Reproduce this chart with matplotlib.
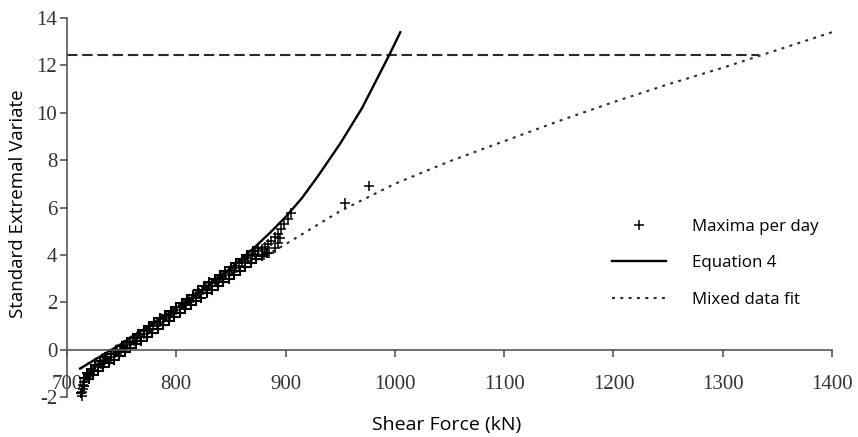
import matplotlib
matplotlib.use("Agg")
import matplotlib.pyplot as plt

plt.rcParams["axes.unicode_minus"] = False

max_x = [713.5, 714, 714.5, 715, 716, 717, 719, 721, 723, 725, 728, 731, 734,
         737, 740, 743, 746, 749, 752, 755, 758, 761, 764, 767, 770, 773, 776,
         779, 782, 785, 788, 791, 794, 797, 800, 803, 806, 809, 812, 815, 818,
         821, 824, 827, 830, 833, 836, 839, 842, 845, 848, 851, 854, 857, 860,
         863, 866, 869, 872, 875, 878, 881, 884, 887, 890, 893, 896, 899, 902,
         905, 880, 885, 890, 893, 895, 954, 976]
max_y = [-1.97, -1.8, -1.65, -1.5, -1.35, -1.2, -1.1, -1.0, -0.92, -0.85,
         -0.75, -0.62, -0.5, -0.4, -0.3, -0.2, -0.1, 0.0, 0.08, 0.18, 0.28,
         0.38, 0.48, 0.58, 0.68, 0.78, 0.88, 0.98, 1.08, 1.18, 1.28, 1.38,
         1.48, 1.58, 1.68, 1.78, 1.88, 1.97, 2.07, 2.17, 2.28, 2.38, 2.5, 2.6,
         2.7, 2.8, 2.88, 2.97, 3.05, 3.15, 3.25, 3.35, 3.45, 3.55, 3.65, 3.75,
         3.85, 3.95, 4.05, 4.15, 4.25, 4.35, 4.45, 4.6, 4.75, 4.9, 5.1, 5.3,
         5.5, 5.75, 4.0, 4.1, 4.3, 4.5, 4.7, 6.2, 6.9]
hi_x = [715.5, 718, 722, 726, 730, 735, 740, 745, 750, 755, 760, 765, 770,
        775, 780, 785, 790, 795, 800, 805, 810, 815, 820, 825, 830, 835, 840,
        845, 850, 855, 860, 865, 870, 875]
hi_y = [-1.2, -1.0, -0.8, -0.65, -0.5, -0.33, -0.17, 0.0, 0.15, 0.33, 0.5,
        0.67, 0.83, 1.0, 1.15, 1.32, 1.48, 1.65, 1.82, 1.98, 2.15, 2.32, 2.5,
        2.68, 2.85, 3.0, 3.15, 3.32, 3.48, 3.65, 3.82, 4.0, 4.15, 4.3]
lo_x = [713, 716, 720, 724, 728, 733, 738, 743, 748, 753, 758, 763, 768, 773,
        778, 783, 788, 793, 798, 803, 808, 813, 818, 823, 828, 833, 838, 843,
        848, 853, 858, 863, 868, 873, 878, 883]
lo_y = [-1.85, -1.55, -1.25, -1.05, -0.9, -0.75, -0.58, -0.42, -0.27, -0.1,
        0.06, 0.22, 0.38, 0.55, 0.71, 0.87, 1.04, 1.2, 1.37, 1.53, 1.7, 1.87,
        2.04, 2.2, 2.37, 2.52, 2.68, 2.84, 3.0, 3.15, 3.32, 3.48, 3.65, 3.82,
        3.95, 4.1]

# Equation 4
eq_x = [712, 730, 750, 775, 800, 825, 850, 870, 885, 900, 915, 930, 950, 970,
        985, 995, 1005]
eq_y = [-0.8, -0.3, 0.25, 1.0, 1.75, 2.55, 3.45, 4.25, 4.9, 5.6, 6.4, 7.35,
        8.7, 10.2, 11.55, 12.45, 13.4]

# Mixed data fit
mix_x = [712, 750, 800, 850, 900, 950, 1000, 1050, 1100, 1150, 1200, 1250,
         1300, 1350, 1400]
mix_y = [-0.8, 0.3, 1.75, 3.15, 4.45, 5.85, 7.0, 7.95, 8.8, 9.65, 10.45,
         11.2, 11.9, 12.65, 13.4]

# horizontal design level
level_y = 12.45
level_x = [700, 1333]

xticks = [700, 800, 900, 1000, 1100, 1200, 1300, 1400]
yticks = [-2, 0, 2, 4, 6, 8, 10, 12, 14]

sans = "Open Sans"
serif = "Liberation Serif"
axcol = "#555555"

fig = plt.figure(figsize=(8.58, 4.37), dpi=100)
ax = fig.add_axes([0.0781, 0.0915, 0.8916, 0.8673])

ax.plot(level_x, [level_y, level_y], color="#2a2a2a", lw=1.5,
        linestyle=(0, (5, 2.3)))
ax.plot(mix_x, mix_y, color="#2a2a2a", lw=1.5, linestyle=(0, (1.4, 2.6)),
        label="Mixed data fit")
ax.plot(eq_x, eq_y, color="black", lw=1.7, label="Equation 4")

# band of crosses: heavier strokes so the overlapping marks merge as in the scan
mk = dict(linestyle="none", marker="+", markersize=7, markeredgewidth=1.5,
          color="black", clip_on=False)
ax.plot(hi_x, hi_y, **mk)
ax.plot(lo_x, lo_y, **mk)
ax.plot(max_x, max_y, linestyle="none", marker="+", markersize=7,
        markeredgewidth=1.1, color="black", clip_on=False,
        label="Maxima per day")

ax.set_xlim(700, 1400)
ax.set_ylim(-2, 14)
ax.set_xticks(xticks)
ax.set_yticks(yticks)

for s in ["top", "right"]:
    ax.spines[s].set_visible(False)
ax.spines["bottom"].set_position(("data", 0))
ax.spines["bottom"].set_color(axcol)
ax.spines["left"].set_color(axcol)
ax.spines["bottom"].set_linewidth(1.2)
ax.spines["left"].set_linewidth(1.2)

ax.tick_params(axis="x", direction="out", length=5, width=1.2, color=axcol,
               pad=13, labelsize=15, labelcolor="#333333")
ax.tick_params(axis="y", direction="out", length=5, width=1.2, color=axcol,
               pad=2, labelsize=15, labelcolor="#333333")
for lab in ax.get_xticklabels() + ax.get_yticklabels():
    lab.set_fontfamily(serif)

fig.text(447 / 858, 1 - 425 / 437, "Shear Force (kN)", family=sans,
         fontsize=14, ha="center", va="center")
fig.text(18 / 858, 1 - 204 / 437, "Standard Extremal Variate", family=sans,
         fontsize=13.5, ha="center", va="center", rotation=90)

handles, labels = ax.get_legend_handles_labels()
order = [2, 1, 0]
leg = ax.legend([handles[i] for i in order], [labels[i] for i in order],
                loc="upper left", bbox_to_anchor=(612 / 858, 1 - 219 / 437),
                bbox_transform=fig.transFigure, frameon=False, numpoints=1,
                borderpad=0, borderaxespad=0, handlelength=3.2,
                handletextpad=1.55, labelspacing=1.2,
                prop={"family": sans, "size": 12.2})

fig.savefig("out.png", dpi=100)
